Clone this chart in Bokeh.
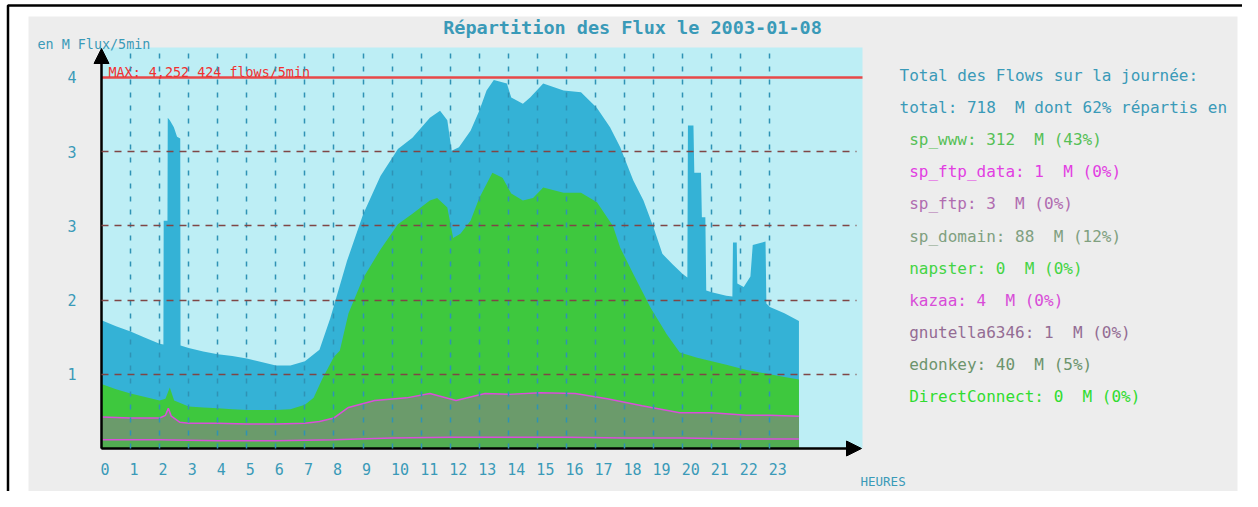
from bokeh.plotting import figure
from bokeh.models import Range1d, FixedTicker, Label, BoxAnnotation, Arrow, NormalHead
from bokeh.embed import file_html
from bokeh.resources import INLINE

# ---------------- data ----------------
total_hours = [0.0, 0.5, 1.0, 1.5, 2.0, 2.13, 2.14, 2.27, 2.28, 2.35, 2.49, 2.6, 2.71, 2.72,
               3.0, 3.5, 4.0, 4.5, 5.0, 5.5, 6.0, 6.5, 7.0, 7.5, 7.87, 8.45, 9.0, 9.6, 10.2,
               10.7, 11.3, 11.65, 11.9, 12.05, 12.3, 12.7, 13.0, 13.25, 13.5, 13.95, 14.1,
               14.5, 14.75, 15.2, 15.9, 16.5, 17.05, 17.5, 17.85, 18.3, 18.65, 19.0, 19.3,
               19.65, 20.0, 20.16, 20.18, 20.37, 20.4, 20.63, 20.66, 20.78, 20.81, 21.0, 21.5,
               21.71, 21.73, 21.86, 21.88, 22.1, 22.33, 22.41, 22.85, 22.88, 23.0, 23.5, 24.0]
total_values = [1.47, 1.40, 1.34, 1.27, 1.20, 1.19, 2.61, 2.61, 3.79, 3.76, 3.68, 3.57, 3.55, 1.18,
                1.15, 1.11, 1.08, 1.06, 1.03, 0.99, 0.95, 0.95, 1.00, 1.13, 1.49, 2.15, 2.68, 3.12, 3.43,
                3.56, 3.79, 3.87, 3.76, 3.41, 3.45, 3.64, 3.87, 4.10, 4.22, 4.18, 4.02,
                3.95, 4.02, 4.18, 4.10, 4.08, 3.90, 3.68, 3.45, 3.07, 2.84, 2.53, 2.23,
                2.11, 2.00, 1.96, 3.70, 3.70, 3.16, 3.16, 2.65, 2.65, 1.81, 1.79, 1.75,
                1.74, 2.36, 2.36, 1.89, 1.85, 1.97, 2.33, 2.37, 1.66, 1.62, 1.55, 1.46]

www_hours = [0.0, 0.5, 1.0, 1.5, 2.0, 2.2, 2.35, 2.5, 3.0, 3.5, 4.0, 4.5, 5.0, 5.5, 6.0, 6.5,
             7.0, 7.3, 7.6, 8.0, 8.2, 8.5, 9.0, 9.6, 10.2, 10.7, 11.3, 11.55, 11.9, 12.1, 12.35,
             12.7, 13.0, 13.45, 13.8, 14.1, 14.5, 14.85, 15.2, 15.9, 16.5, 17.05, 17.6, 17.85,
             18.3, 18.9, 19.45, 19.9, 20.5, 21.0, 21.5, 22.2, 23.0, 23.5, 24.0]
www_values = [0.74, 0.68, 0.63, 0.59, 0.55, 0.57, 0.70, 0.55, 0.48, 0.47, 0.46, 0.45, 0.44, 0.44, 0.44, 0.45,
              0.50, 0.58, 0.80, 1.05, 1.12, 1.55, 1.95, 2.28, 2.57, 2.69, 2.84, 2.87, 2.76, 2.41, 2.46,
              2.61, 2.87, 3.16, 3.10, 2.92, 2.84, 2.87, 2.99, 2.93, 2.93, 2.82, 2.55, 2.30,
              2.00, 1.61, 1.31, 1.10, 1.04, 1.00, 0.96, 0.90, 0.85, 0.82, 0.79]

domain_hours = [0.0, 1.0, 2.0, 2.2, 2.3, 2.4, 2.7, 3.0, 4.0, 5.0, 6.0, 7.0, 7.5, 8.0, 8.5, 9.4,
                10.5, 11.3, 12.2, 13.2, 14.0, 15.1, 16.3, 17.4, 18.6, 19.9, 21.0, 22.2, 23.0, 24.0]
domain_values = [0.36, 0.35, 0.35, 0.38, 0.46, 0.37, 0.30, 0.29, 0.29, 0.28, 0.28, 0.29, 0.31, 0.35, 0.47, 0.55,
                 0.58, 0.63, 0.55, 0.63, 0.62, 0.64, 0.63, 0.57, 0.49, 0.41, 0.41, 0.38, 0.38, 0.37]

base_hours = [0.0, 2.0, 4.0, 6.0, 8.0, 10.0, 12.0, 14.0, 16.0, 18.0, 20.0, 22.0, 24.0]
base_values = [0.10, 0.10, 0.09, 0.09, 0.10, 0.12, 0.13, 0.13, 0.13, 0.12, 0.12, 0.11, 0.11]

hour_labels = [str(h) for h in range(24)]
grid_hours = list(range(1, 24))
y_tick_values = [0.85, 1.7, 2.55, 3.4, 4.25]
y_tick_labels = ["1", "2", "3", "3", "4"]
max_value = 4.25
max_text = "MAX: 4,252 424 flows/5min"

summary_title = "Total des Flows sur la journée:"
summary_total_M = 718
summary_share_pct = 62
series_names = ["sp_www", "sp_ftp_data", "sp_ftp", "sp_domain", "napster", "kazaa",
                "gnutella6346", "edonkey", "DirectConnect"]
series_totals_M = [312, 1, 3, 88, 0, 4, 1, 40, 0]
series_pcts = [43, 0, 0, 12, 0, 0, 0, 5, 0]
series_colors = ["#55c055", "#e23ee2", "#b06cb0", "#80a080", "#44d444", "#d84cd8",
                 "#946c94", "#6c946c", "#30dc30"]

# ---------------- layout helpers (canvas pixel -> data) ----------------
W, H = 1242, 491
X0_PX, PX_PER_H = 101.0, 29.06
Y0_PX, PX_PER_V = 448.0, 87.3
def hx(px):
    return (px - X0_PX) / PX_PER_H
def vy(py):
    return (Y0_PX - py) / PX_PER_V

TEAL = "#3a9ab8"
MONO = "DejaVu Sans Mono"
NB = "\u00a0"
plot_right = hx(862)
plot_top = vy(47)

p = figure(width=W, height=H, output_backend="svg", toolbar_location=None,
           x_range=Range1d(hx(0), hx(W)), y_range=Range1d(vy(H), vy(0)),
           min_border=0, background_fill_color="white", border_fill_color="white",
           outline_line_color=None)

# page frame, grey panel, cyan plotting area
p.add_layout(BoxAnnotation(left=hx(7.5), right=hx(1262), top=vy(5), bottom=vy(530),
                           fill_color="white", fill_alpha=1, line_color="black", line_alpha=1,
                           line_width=2.5, level="image"))
p.add_layout(BoxAnnotation(left=hx(28), right=hx(1237), top=vy(16), bottom=vy(498),
                           fill_color="#ededed", fill_alpha=1, line_color=None, level="image"))
p.add_layout(BoxAnnotation(left=0, right=plot_right, top=plot_top, bottom=0,
                           fill_color="#bdeef5", fill_alpha=1, line_color=None, level="image"))

# stacked areas
p.varea(x=total_hours, y1=0, y2=total_values, fill_color="#34b2d6")
p.varea(x=www_hours, y1=0, y2=www_values, fill_color="#3ec83e")
p.varea(x=domain_hours, y1=0, y2=domain_values, fill_color="#6b9b6b")
p.varea(x=base_hours, y1=0, y2=base_values, fill_color="#52ad52")
p.line(domain_hours, domain_values, line_color="#d94fd9", line_width=1.5)
p.line(base_hours, base_values, line_color="#d94fd9", line_width=1.5)

# axes (pinned at the data origin)
x_ticks = [h + (len(s) * 4.5 - 1) / PX_PER_H for h, s in enumerate(hour_labels)]
p.xaxis.ticker = FixedTicker(ticks=x_ticks)
p.xaxis.major_label_overrides = dict(zip(x_ticks, hour_labels))
p.yaxis.ticker = FixedTicker(ticks=y_tick_values)
p.yaxis.major_label_overrides = dict(zip(y_tick_values, y_tick_labels))
p.xaxis.bounds = (0, hx(850))
p.yaxis.bounds = (0, vy(60))
for ax in (p.xaxis[0], p.yaxis[0]):
    ax.fixed_location = 0
    ax.axis_line_color = "black"
    ax.axis_line_width = 2
    ax.major_tick_out = 0
    ax.major_tick_in = 0
    ax.minor_tick_out = 0
    ax.minor_tick_in = 0
    ax.major_label_text_color = TEAL
    ax.major_label_text_font = MONO
    ax.major_label_text_font_size = "15px"
p.xaxis.major_label_standoff = 14
p.yaxis.major_label_standoff = 25

# grids above the areas
p.xgrid.ticker = FixedTicker(ticks=grid_hours)
p.xgrid.cross_bounds = (0, plot_top)
p.xgrid.grid_line_color = "#2f92b5"
p.xgrid.grid_line_dash = "5 8"
p.xgrid.grid_line_width = 1.5
p.xgrid.level = "overlay"
p.ygrid.ticker = FixedTicker(ticks=y_tick_values[:-1])
p.ygrid.cross_bounds = (0, hx(856))
p.ygrid.grid_line_color = "#7f4646"
p.ygrid.grid_line_dash = "7 6"
p.ygrid.grid_line_width = 1.5
p.ygrid.level = "overlay"

# maximum line
p.line(x=[0, plot_right], y=[max_value, max_value], line_color="#e84848", line_width=2.5)

# axis arrows
p.add_layout(Arrow(end=NormalHead(size=15, fill_color="black", line_color="black"),
                   x_start=0, y_start=0, x_end=0, y_end=vy(48), line_width=2, line_color="black"))
p.add_layout(Arrow(end=NormalHead(size=15, fill_color="black", line_color="black"),
                   x_start=0, y_start=0, x_end=hx(861), y_end=0, line_width=2, line_color="black"))

# texts
p.add_layout(Label(x=hx(632), y=vy(27), text="Répartition des Flux le 2003-01-08",
                   text_align="center", text_baseline="middle", text_font=MONO,
                   text_font_style="bold", text_font_size="18.5px", text_color=TEAL))
p.add_layout(Label(x=hx(37), y=vy(44), text="en M Flux/5min", text_align="left",
                   text_baseline="middle", text_font=MONO, text_font_size="13.4px", text_color=TEAL))
p.add_layout(Label(x=hx(108), y=vy(72), text=max_text, text_align="left",
                   text_baseline="middle", text_font=MONO, text_font_size="13.4px", text_color="#f03030"))
p.add_layout(Label(x=hx(860), y=vy(481), text="HEURES", text_align="left",
                   text_baseline="middle", text_font=MONO, text_font_size="12.5px", text_color=TEAL))

legend_texts = [summary_title,
                f"total: {summary_total_M} {NB}M dont {summary_share_pct}% répartis en"] + [
    f"{NB}{n}: {t} {NB}M ({c}%)" for n, t, c in zip(series_names, series_totals_M, series_pcts)]
legend_colors = [TEAL, TEAL] + series_colors
for i, (txt, col) in enumerate(zip(legend_texts, legend_colors)):
    p.add_layout(Label(x=hx(899), y=vy(75 + 32.1 * i), text=txt, text_align="left",
                       text_baseline="middle", text_font=MONO, text_font_size="16px", text_color=col))

open("out.html", "w").write(file_html(p, INLINE))
